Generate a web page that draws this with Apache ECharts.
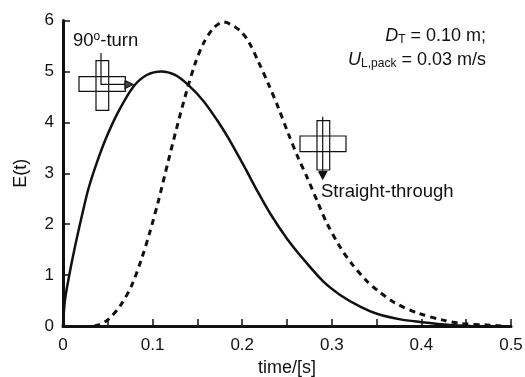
<!DOCTYPE html>
<html lang="en">
<head>
<meta charset="UTF-8">
<title>E(t)</title>
<script src="https://cdn.jsdelivr.net/npm/echarts@6/dist/echarts.min.js"></script>
<style>
html, body { margin: 0; padding: 0; background: #fff; }
#main { width: 525px; height: 377px; }
</style>
</head>
<body>
<div id="main"></div>
<script>
// time [s] and E(t)
var turnTime = [0, 0.0022, 0.007, 0.0134, 0.0209, 0.0283, 0.0376, 0.0488, 0.0618, 0.0785, 0.0935, 0.11, 0.125, 0.14, 0.1567, 0.1717, 0.1846, 0.2033, 0.2163, 0.2312, 0.2498, 0.2684, 0.2907, 0.3093, 0.3317, 0.3503, 0.3764, 0.3987, 0.432, 0.455];
var turnE = [0, 0.51, 1, 1.56, 2.15, 2.69, 3.2, 3.72, 4.21, 4.7, 4.93, 5, 4.93, 4.73, 4.42, 4.05, 3.69, 3.1, 2.67, 2.21, 1.72, 1.31, 0.87, 0.61, 0.38, 0.24, 0.13, 0.08, 0.02, 0];
var straightTime = [0.035, 0.041, 0.0506, 0.0644, 0.0767, 0.0879, 0.0972, 0.1064, 0.1102, 0.1195, 0.1288, 0.1381, 0.1474, 0.1567, 0.1679, 0.179, 0.1865, 0.1977, 0.207, 0.2181, 0.2293, 0.2405, 0.2516, 0.2628, 0.2722, 0.285, 0.2945, 0.3093, 0.3224, 0.3392, 0.351, 0.3708, 0.3968, 0.4229, 0.4434, 0.473, 0.49];
var straightE = [0, 0.03, 0.13, 0.41, 0.8, 1.33, 1.86, 2.45, 2.72, 3.38, 4.02, 4.62, 5.15, 5.55, 5.85, 5.97, 5.93, 5.8, 5.59, 5.19, 4.75, 4.28, 3.77, 3.29, 2.93, 2.4, 2.02, 1.55, 1.22, 0.88, 0.7, 0.45, 0.25, 0.12, 0.05, 0.02, 0];

function pairs(xs, ys) {
    return xs.map(function (x, i) { return [x, ys[i]]; });
}

var font = '"Liberation Sans", Arial, sans-serif';
var chart = echarts.init(document.getElementById('main'));

function box(x, y, w, h) {
    return { type: 'rect', shape: { x: x, y: y, width: w, height: h }, style: { fill: 'none', stroke: '#111', lineWidth: 1.2 }, z: 5 };
}
function path(points, fill) {
    return { type: 'polyline', shape: { points: points }, style: { fill: fill || 'none', stroke: '#111', lineWidth: 1.2 }, z: 5 };
}

chart.setOption({
    animation: false,
    backgroundColor: '#fff',
    textStyle: { fontFamily: font },
    grid: { left: 63, right: 14, top: 20.5, bottom: 51, outerBoundsMode: 'none' },
    xAxis: {
        type: 'value', min: 0, max: 0.5, interval: 0.1,
        name: 'time/[s]', nameLocation: 'middle', nameGap: 33,
        nameTextStyle: { color: '#111', fontSize: 18, fontFamily: font },
        axisLine: { lineStyle: { color: '#111', width: 3 } },
        axisTick: { inside: true, length: 7, lineStyle: { color: '#111', width: 1.5 } },
        minorTick: { show: true, splitNumber: 2, length: 7, lineStyle: { color: '#111', width: 1.5 } },
        splitLine: { show: false },
        axisLabel: { color: '#111', fontSize: 17, margin: 11, fontFamily: font,
            formatter: function (v) { return v === 0 ? '0' : v.toFixed(1); } }
    },
    yAxis: {
        type: 'value', min: 0, max: 6, interval: 1,
        name: 'E(t)', nameLocation: 'middle', nameGap: 33,
        nameTextStyle: { color: '#111', fontSize: 18, fontFamily: font },
        axisLine: { show: true, lineStyle: { color: '#111', width: 3 } },
        axisTick: { show: true, inside: true, length: 7, lineStyle: { color: '#111', width: 1.5 } },
        splitLine: { show: false },
        axisLabel: { color: '#111', fontSize: 17, margin: 9, fontFamily: font }
    },
    series: [
        { type: 'line', data: pairs(turnTime, turnE), smooth: 0.3, symbol: 'none', clip: true,
          lineStyle: { color: '#111', width: 2.5 } },
        { type: 'line', data: pairs(straightTime, straightE), smooth: 0.3, symbol: 'none', clip: true,
          lineStyle: { color: '#111', width: 3, type: [6, 5] } }
    ],
    graphic: [
        // 90-degree turn sketch
        box(79, 76.7, 46.3, 14.6),
        box(96, 60.7, 12.7, 49.6),
        path([[101, 53], [101, 84.3], [128, 84.3]]),
        path([[125, 80.5], [133, 84.5], [125, 88.5], [125, 80.5]], '#444'),
        // straight-through sketch
        box(300, 136, 46, 15.7),
        box(317, 120.7, 12.7, 49.3),
        path([[322.7, 116.7], [322.7, 172]]),
        path([[318.7, 171.7], [326.7, 171.7], [322.7, 179], [318.7, 171.7]], '#111'),
        { type: 'text', left: 73, top: 31, z: 6, style: {
            text: '90{sup|o}-turn', font: '18.5px ' + font, fill: '#111',
            rich: { sup: { fontSize: 12, verticalAlign: 'top', padding: [0, 0, 6, 0], fill: '#111' } } } },
        { type: 'text', left: 321, top: 182, z: 6, style: {
            text: 'Straight-through', font: '18.5px ' + font, fill: '#111' } },
        { type: 'text', right: 39, top: 27, z: 6, style: {
            text: '{i|D}{sub|T} = 0.10 m;', font: '18px ' + font, fill: '#111',
            rich: { i: { fontStyle: 'italic', fontSize: 18, fill: '#111' }, sub: { fontSize: 12, padding: [7, 0, 0, 0], fill: '#111' } } } },
        { type: 'text', right: 39, top: 51, z: 6, style: {
            text: '{i|U}{sub|L,pack} = 0.03 m/s', font: '18px ' + font, fill: '#111',
            rich: { i: { fontStyle: 'italic', fontSize: 18, fill: '#111' }, sub: { fontSize: 12, padding: [7, 0, 0, 0], fill: '#111' } } } }
    ]
});
</script>
</body>
</html>
